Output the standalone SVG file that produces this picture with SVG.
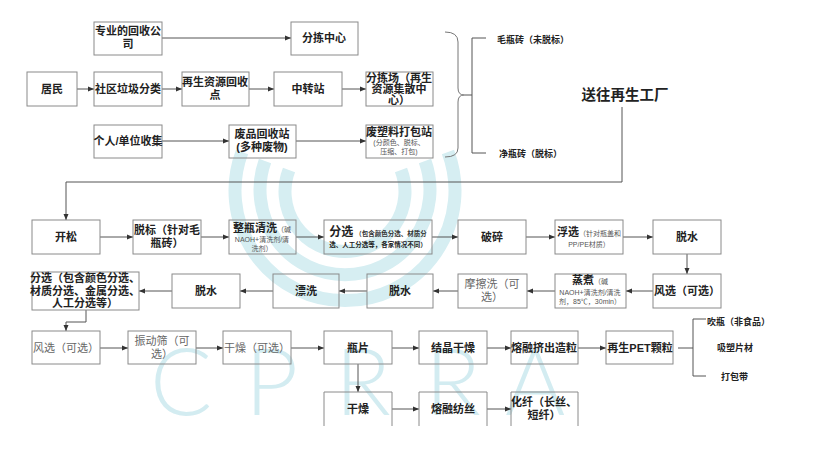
<svg xmlns="http://www.w3.org/2000/svg" width="819" height="451" viewBox="0 0 819 451">
<defs>
<marker id="ah" viewBox="0 0 6 6" refX="6" refY="3" markerWidth="6" markerHeight="6" orient="auto" markerUnits="userSpaceOnUse">
<path d="M0,0.5 L6,3 L0,5.5 Z" fill="#333"/>
</marker>
<style>
text{font-family:"Liberation Sans","Noto Sans CJK SC",sans-serif;fill:#222;}
.b{font-size:11px;font-weight:bold;text-anchor:middle;}
.g{font-size:11px;fill:#666;text-anchor:middle;}
.s{font-size:7px;fill:#555;font-weight:normal;}
.box{fill:none;stroke:#8a8a8a;stroke-width:1;}
.ln{fill:none;stroke:#555;stroke-width:1;}
.ar{fill:none;stroke:#555;stroke-width:1;marker-end:url(#ah);}
.lab{font-size:9px;font-weight:bold;}
.wm{fill:none;stroke:#d6eef2;stroke-width:13;}
.wt{font-family:"Lato","Open Sans","Liberation Sans",sans-serif;font-weight:300;font-size:92px;fill:#d3ecf1;}
</style>
</defs>
<rect width="819" height="451" fill="#fff"/>
<g id="watermark">
<path class="wm" d="M242 152 A110 110 0 1 0 448 152"/>
<path class="wm" d="M265 161 A85 85 0 1 0 425 161"/>
<path class="wm" d="M289 170 A60 60 0 1 0 401 170"/>
<text class="wt" x="150" y="415">C</text>
<text class="wt" x="245" y="415">P</text>
<text class="wt" x="335" y="415">R</text>
<text class="wt" x="425" y="415">R</text>
<text class="wt" x="505" y="415">A</text>
</g>
<g id="connectors">
<path class="ar" d="M162 38 H291"/>
<path class="ar" d="M77 89 H94"/>
<path class="ar" d="M162 89 H182"/>
<path class="ar" d="M249 89 H274"/>
<path class="ar" d="M342 89 H366"/>
<path class="ar" d="M162 141 H229"/>
<path class="ar" d="M296 141 H366"/>
<path d="M445 32 Q458 32 458 42 V88 Q458 95 464 95 Q458 95 458 102 V148 Q458 157 445 157" fill="none" stroke="#777" stroke-width="1"/>
<path class="ln" d="M464 95 H472 M486 38 H472 V153 H486"/>
<path class="ar" d="M622 107 V182 H66 V220"/>
<path class="ar" d="M100 237 H133"/>
<path class="ar" d="M201 237 H229"/>
<path class="ar" d="M296 237 H324"/>
<path class="ar" d="M432 237 H458"/>
<path class="ar" d="M526 237 H555"/>
<path class="ar" d="M623 237 H653"/>
<path class="ar" d="M687 254 V274"/>
<path class="ar" d="M653 291 H626"/>
<path class="ar" d="M555 291 H527"/>
<path class="ar" d="M458 291 H433"/>
<path class="ar" d="M367 291 H339"/>
<path class="ar" d="M273 291 H240"/>
<path class="ar" d="M172 291 H139"/>
<path class="ar" d="M86 310 V322 H66 V331"/>
<path class="ar" d="M100 348 H128"/>
<path class="ar" d="M196 348 H223"/>
<path class="ar" d="M291 348 H324"/>
<path class="ar" d="M392 348 H419"/>
<path class="ar" d="M487 348 H511"/>
<path class="ar" d="M578 348 H606"/>
<path class="ln" d="M678 348 H693 M706 319 H693 V376 H706"/>
<path class="ar" d="M358 364 V392"/>
<path class="ar" d="M392 409 H419"/>
<path class="ar" d="M487 409 H511"/>
</g>
<g id="n-zhuanye"><rect class="box" x="94" y="22" width="68" height="33"/><text class="b" x="128" y="35">专业的回收公<tspan x="128" dy="13">司</tspan></text></g>
<g id="n-jumin"><rect class="box" x="27" y="72" width="50" height="34"/><text class="b" x="52" y="93">居民</text></g>
<g id="n-shequ"><rect class="box" x="94" y="72" width="68" height="34"/><text class="b" x="128" y="93">社区垃圾分类</text></g>
<g id="n-huishoudian"><rect class="box" x="182" y="72" width="67" height="34"/><text class="b" x="215" y="86">再生资源回收<tspan x="215" dy="13">点</tspan></text></g>
<g id="n-geren"><rect class="box" x="94" y="125" width="68" height="33"/><text class="b" x="128" y="145">个人/单位收集</text></g>
<g id="n-feipin"><rect class="box" x="229" y="125" width="67" height="33"/><text class="b" x="262" y="138">废品回收站<tspan x="262" dy="13">(多种废物)</tspan></text></g>
<g id="n-fenjian"><rect class="box" x="291" y="22" width="67" height="33"/><text class="b" x="324" y="42">分拣中心</text></g>
<g id="n-zhongzhuan"><rect class="box" x="274" y="72" width="68" height="34"/><text class="b" x="308" y="93">中转站</text></g>
<g id="n-fenjianchang"><rect class="box" x="366" y="72" width="67" height="34"/><text class="b" x="399" y="82">分拣场（再生<tspan x="399" dy="11">资源集散中</tspan><tspan x="399" dy="11">心）</tspan></text></g>
<g id="n-dabao"><rect class="box" x="366" y="125" width="67" height="33"/><text class="b" x="399" y="136">废塑料打包站</text><text class="s" x="399" y="145" text-anchor="middle" font-size="7.5">(分颜色、脱标、<tspan x="399" dy="9">压缩、打包)</tspan></text></g>
<g id="n-maoping"><text class="lab" x="497" y="43">毛瓶砖（未脱标）</text></g>
<g id="n-jingping"><text class="lab" x="499" y="157">净瓶砖（脱标）</text></g>
<g id="n-songwang"><text x="625" y="100" font-size="14.5" font-weight="bold" text-anchor="middle" fill="#111">送往再生工厂</text></g>
<g id="n-kaisong"><rect class="box" x="32" y="220" width="68" height="34"/><text class="b" x="66" y="241">开松</text></g>
<g id="n-tuobiao"><rect class="box" x="133" y="220" width="68" height="34"/><text class="b" x="167" y="234">脱标（针对毛<tspan x="167" dy="13">瓶砖）</tspan></text></g>
<g id="n-zhengping"><rect class="box" x="229" y="220" width="67" height="34"/><text class="b" x="262" y="232">整瓶清洗<tspan class="s">（碱</tspan></text><text class="s" x="262" y="242" text-anchor="middle">NAOH+清洗剂/清<tspan x="262" dy="9">洗剂）</tspan></text></g>
<g id="n-fenxuan1"><rect class="box" x="324" y="220" width="108" height="34"/><text x="378" y="236" font-size="12" font-weight="bold" text-anchor="middle">分选<tspan font-size="6.5" font-weight="bold" fill="#333"> （包含颜色分选、材质分</tspan></text><text x="378" y="247" font-size="6.5" font-weight="bold" fill="#333" text-anchor="middle">选、人工分选等，各家情况不同）</text></g>
<g id="n-posui"><rect class="box" x="458" y="220" width="68" height="34"/><text class="b" x="492" y="241">破碎</text></g>
<g id="n-fuxuan"><rect class="box" x="555" y="220" width="68" height="34"/><text x="589" y="236" font-size="11" font-weight="bold" text-anchor="middle">浮选<tspan class="s">（针对瓶盖和</tspan></text><text class="s" x="589" y="247" text-anchor="middle">PP/PE材质）</text></g>
<g id="n-tuoshui1"><rect class="box" x="653" y="220" width="68" height="34"/><text class="b" x="687" y="241">脱水</text></g>
<g id="n-fengxuan1"><rect class="box" x="653" y="274" width="68" height="34"/><text class="b" x="687" y="295">风选（可选）</text></g>
<g id="n-zhengzhu"><rect class="box" x="555" y="274" width="71" height="34"/><text x="590" y="284" font-size="11" font-weight="bold" text-anchor="middle">蒸煮<tspan class="s">（碱</tspan></text><text class="s" x="590" y="295" text-anchor="middle">NAOH+清洗剂/清洗<tspan x="590" dy="9">剂，85℃，30min）</tspan></text></g>
<g id="n-moca"><rect class="box" x="458" y="274" width="69" height="34"/><text class="g" x="492" y="288">摩擦洗（可<tspan x="492" dy="13">选）</tspan></text></g>
<g id="n-tuoshui2"><rect class="box" x="367" y="274" width="66" height="34"/><text class="b" x="400" y="295">脱水</text></g>
<g id="n-piaoxi"><rect class="box" x="273" y="274" width="66" height="34"/><text class="b" x="306" y="295">漂洗</text></g>
<g id="n-tuoshui3"><rect class="box" x="172" y="274" width="68" height="34"/><text class="b" x="206" y="295">脱水</text></g>
<g id="n-fenxuan2"><rect class="box" x="32" y="272" width="107" height="38"/><text class="b" x="85" y="282" font-size="10.5">分选（包含颜色分选、<tspan x="85" dy="12.5">材质分选、金属分选、</tspan><tspan x="85" dy="12.5">人工分选等）</tspan></text></g>
<g id="n-fengxuan2"><rect class="box" x="32" y="331" width="68" height="33"/><text class="g" x="66" y="352">风选（可选）</text></g>
<g id="n-zhendong"><rect class="box" x="128" y="331" width="68" height="33"/><text class="g" x="162" y="345">振动筛（可<tspan x="162" dy="13">选）</tspan></text></g>
<g id="n-ganzao1"><rect class="box" x="223" y="331" width="68" height="33"/><text class="g" x="257" y="352">干燥（可选）</text></g>
<g id="n-pingpian"><rect class="box" x="324" y="331" width="68" height="33"/><text class="b" x="358" y="352">瓶片</text></g>
<g id="n-jiejing"><rect class="box" x="419" y="331" width="68" height="33"/><text class="b" x="453" y="352">结晶干燥</text></g>
<g id="n-jichu"><rect class="box" x="511" y="331" width="67" height="33"/><text class="b" x="544" y="352">熔融挤出造粒</text></g>
<g id="n-pet"><rect class="box" x="606" y="331" width="67" height="33"/><text class="b" x="640" y="352">再生PET颗粒</text></g>
<g id="n-chuiping"><text class="lab" x="707" y="325">吹瓶（非食品）</text></g>
<g id="n-xisu"><text class="lab" x="717" y="351">吸塑片材</text></g>
<g id="n-dabaodai"><text class="lab" x="721" y="380">打包带</text></g>
<g id="n-ganzao2"><path class="box" d="M324 426 V392 H392 V426"/><text class="b" x="358" y="413">干燥</text></g>
<g id="n-fangsi"><path class="box" d="M419 426 V392 H487 V426"/><text class="b" x="453" y="413">熔融纺丝</text></g>
<g id="n-huaxian"><path class="box" d="M511 426 V392 H578 V426"/><text class="b" x="544" y="406">化纤（长丝、<tspan x="544" dy="13">短纤）</tspan></text></g>
</svg>
